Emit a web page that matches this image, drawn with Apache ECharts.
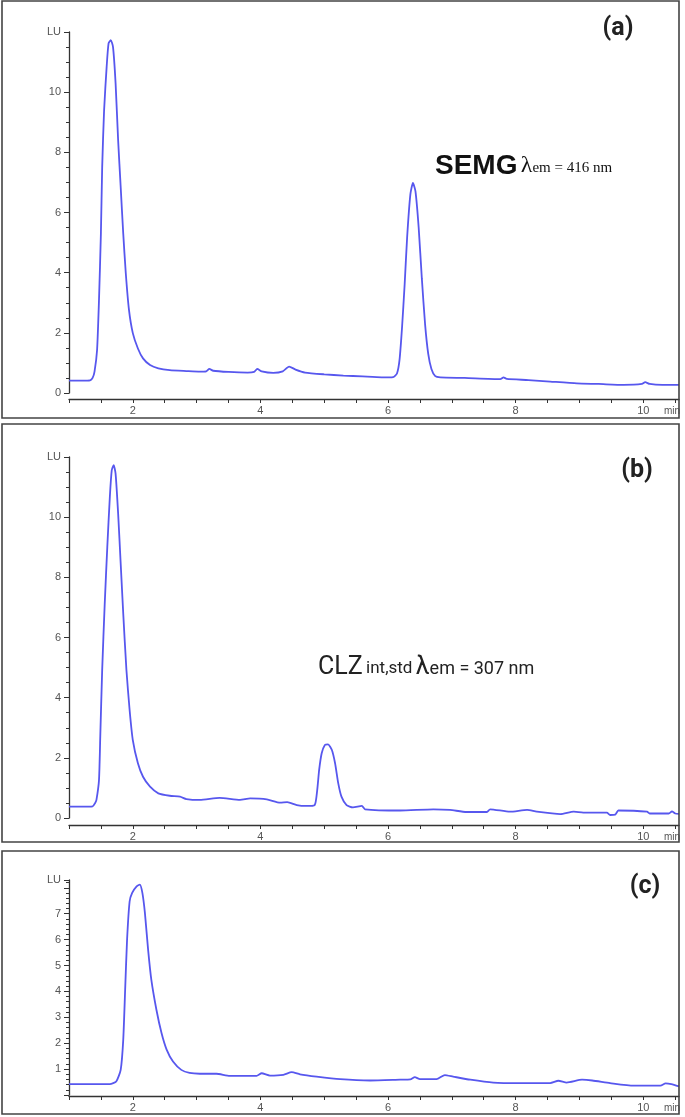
<!DOCTYPE html>
<html>
<head>
<meta charset="utf-8">
<script src="https://cdn.jsdelivr.net/npm/echarts@6/dist/echarts.min.js"></script>
<style>
  html, body { margin: 0; padding: 0; background: #fff; }
  #main { width: 685px; height: 1117px; }
</style>
</head>
<body>
<div id="main"></div>
<script>
// traces: [time (min), signal (LU)]
const traceA = [
  [1.0, 0.41], [1.2, 0.41], [1.33, 0.42], [1.37, 0.5], [1.40, 0.71], [1.44, 1.43], [1.47, 3.09],
  [1.50, 5.3], [1.52, 7.5], [1.55, 9.4], [1.59, 10.84], [1.62, 11.62], [1.655, 11.73], [1.69, 11.5],
  [1.73, 10.3], [1.77, 8.4], [1.81, 6.85], [1.85, 5.3], [1.89, 3.98], [1.94, 2.76], [2.0, 1.99],
  [2.08, 1.48], [2.16, 1.15], [2.27, 0.93], [2.40, 0.82], [2.58, 0.76], [2.84, 0.73], [3.05, 0.71],
  [3.15, 0.72], [3.2, 0.8], [3.26, 0.74], [3.5, 0.7], [3.8, 0.68], [3.9, 0.7], [3.95, 0.8],
  [4.02, 0.72], [4.2, 0.67], [4.35, 0.72], [4.45, 0.88], [4.55, 0.78], [4.7, 0.68], [5.0, 0.62],
  [5.3, 0.58], [5.6, 0.55], [5.9, 0.52], [6.08, 0.53], [6.14, 0.65], [6.18, 1.1], [6.22, 2.2],
  [6.26, 3.6], [6.3, 5.2], [6.35, 6.6], [6.39, 6.98], [6.43, 6.7], [6.48, 5.5], [6.53, 3.8],
  [6.58, 2.3], [6.63, 1.3], [6.68, 0.8], [6.74, 0.56], [6.82, 0.52], [7.2, 0.5], [7.76, 0.46],
  [7.81, 0.52], [7.86, 0.47], [8.2, 0.43], [8.54, 0.38], [8.96, 0.32], [9.3, 0.3], [9.69, 0.27],
  [9.98, 0.3], [10.03, 0.36], [10.1, 0.3], [10.3, 0.27], [10.56, 0.27]
];
const traceB = [
  [1.0, 0.38], [1.2, 0.38], [1.37, 0.39], [1.41, 0.5], [1.43, 0.6], [1.47, 1.26], [1.49, 2.7],
  [1.52, 4.92], [1.56, 7.13], [1.60, 9.0], [1.64, 10.67], [1.67, 11.56], [1.70, 11.73], [1.73, 11.45],
  [1.77, 10.12], [1.81, 8.46], [1.85, 6.8], [1.90, 4.92], [1.95, 3.59], [2.0, 2.59], [2.08, 1.82],
  [2.16, 1.37], [2.27, 1.04], [2.40, 0.82], [2.58, 0.74], [2.74, 0.71], [2.84, 0.63], [3.05, 0.6],
  [3.36, 0.67], [3.68, 0.6], [3.84, 0.65], [4.1, 0.62], [4.31, 0.51], [4.42, 0.53], [4.57, 0.43],
  [4.72, 0.4], [4.85, 0.43], [4.89, 0.93], [4.92, 1.59], [4.96, 2.15], [5.01, 2.43], [5.06, 2.45],
  [5.12, 2.26], [5.17, 1.82], [5.22, 1.15], [5.27, 0.71], [5.35, 0.43], [5.45, 0.35], [5.59, 0.4],
  [5.64, 0.29], [6.19, 0.25], [6.71, 0.29], [6.97, 0.27], [7.23, 0.2], [7.55, 0.2], [7.6, 0.29],
  [7.91, 0.21], [8.18, 0.27], [8.33, 0.21], [8.7, 0.13], [8.91, 0.21], [9.06, 0.18], [9.43, 0.18],
  [9.48, 0.1], [9.56, 0.11], [9.61, 0.25], [10.06, 0.21], [10.1, 0.15], [10.4, 0.15], [10.45, 0.22],
  [10.5, 0.15], [10.56, 0.14]
];
const traceC = [
  [1.0, 0.42], [1.4, 0.42], [1.64, 0.42], [1.74, 0.52], [1.81, 0.97], [1.85, 2.13], [1.88, 4.06],
  [1.91, 5.99], [1.95, 7.47], [1.99, 7.8], [2.06, 8.05], [2.11, 8.12], [2.15, 7.8], [2.19, 7.02],
  [2.24, 5.6], [2.29, 4.45], [2.37, 3.29], [2.45, 2.39], [2.53, 1.75], [2.63, 1.29], [2.76, 0.97],
  [2.89, 0.85], [3.05, 0.82], [3.31, 0.82], [3.52, 0.74], [3.94, 0.74], [4.02, 0.84], [4.15, 0.75],
  [4.36, 0.78], [4.49, 0.88], [4.62, 0.8], [4.88, 0.71], [5.25, 0.61], [5.72, 0.56], [6.19, 0.59],
  [6.35, 0.6], [6.42, 0.69], [6.5, 0.61], [6.76, 0.61], [6.89, 0.77], [7.02, 0.71], [7.29, 0.59],
  [7.65, 0.48], [8.07, 0.46], [8.54, 0.46], [8.67, 0.55], [8.8, 0.48], [9.04, 0.59], [9.2, 0.56],
  [9.48, 0.46], [9.85, 0.36], [10.27, 0.36], [10.35, 0.45], [10.44, 0.42], [10.56, 0.33]
];

const xTickLabels = [2, 4, 6, 8, 10];
const panelTags = ['(a)', '(b)', '(c)'];

// layout of the three stacked panels
const panels = [
  { top: 32, height: 361, max: 12, interval: 2, minor: 4, xOffset: 6, hideZero: false, data: traceA, box: [1, 418] },
  { top: 457, height: 361, max: 12, interval: 2, minor: 4, xOffset: 7, hideZero: false, data: traceB, box: [424, 842] },
  { top: 880, height: 215, max: 8.3, interval: 1, minor: 5, xOffset: 1, hideZero: true, data: traceC, box: [851, 1114] }
];
const tagPos = [[618, 29], [637, 471], [645, 887]];

const axisColor = '#333';
const labelStyle = { color: '#555', fontSize: 11, fontFamily: 'Liberation Sans, Arial, sans-serif' };

const grids = [], xAxes = [], yAxes = [], series = [], graphics = [];

panels.forEach((p, i) => {
  grids.push({ left: 69, width: 610, top: p.top, height: p.height });
  xAxes.push({
    gridIndex: i, type: 'value', min: 1, max: 10.56, interval: 0.5, offset: p.xOffset,
    axisLine: { show: true, onZero: false, lineStyle: { color: axisColor, width: 1.3 } },
    axisTick: { show: true, length: 4, lineStyle: { color: axisColor } },
    splitLine: { show: false },
    axisLabel: Object.assign({}, labelStyle, {
      margin: 6, showMaxLabel: false,
      formatter: v => xTickLabels.indexOf(v) >= 0 ? String(v) : ''
    })
  });
  yAxes.push({
    gridIndex: i, type: 'value', min: 0, max: p.max, interval: p.interval,
    axisLine: { show: true, lineStyle: { color: axisColor, width: 1.3 } },
    axisTick: { show: true, length: 5, lineStyle: { color: axisColor } },
    minorTick: { show: true, splitNumber: p.minor, length: 3, lineStyle: { color: axisColor } },
    splitLine: { show: false },
    minorSplitLine: { show: false },
    axisLabel: Object.assign({}, labelStyle, {
      margin: 8, showMaxLabel: true,
      formatter: v => {
        if (v >= p.max - 1e-6) return 'LU';
        if (p.hideZero && (v === 0 || v === 8)) return '';
        return String(v);
      }
    })
  });
  series.push({
    type: 'line', xAxisIndex: i, yAxisIndex: i, data: p.data,
    showSymbol: false, smooth: 0.2, animation: false,
    lineStyle: { color: '#5757ee', width: 1.8 }
  });

  // panel frame
  graphics.push({
    type: 'rect', shape: { x: 2, y: p.box[0], width: 677, height: p.box[1] - p.box[0] },
    style: { fill: 'none', stroke: '#444', lineWidth: 1.6 }, z: 10
  });
  graphics.push({
    type: 'text', x: tagPos[i][0], y: tagPos[i][1],
    style: {
      text: panelTags[i], fill: '#222', align: 'center', verticalAlign: 'middle',
      font: 'bold 25px "Liberation Sans Narrow", Roboto, sans-serif'
    }
  });
  graphics.push({
    type: 'text', x: 664, y: p.top + p.height + p.xOffset + 7,
    style: { text: 'min', fill: '#555', font: '10px "Liberation Sans", Arial, sans-serif', verticalAlign: 'top' }
  });
});

// compound annotations
graphics.push({
  type: 'text', x: 435, y: 150,
  style: {
    text: '{b|SEMG} {l|λ}{s|em = 416 nm}', fill: '#111',
    rich: {
      b: { fontFamily: 'Liberation Sans', fontWeight: 'bold', fontSize: 28, lineHeight: 30, verticalAlign: 'bottom' },
      l: { fontFamily: 'Liberation Serif', fontSize: 24, lineHeight: 24, verticalAlign: 'bottom', padding: [0, 0, 2, 0] },
      s: { fontFamily: 'Liberation Serif', fontSize: 15, lineHeight: 15, verticalAlign: 'bottom', padding: [0, 0, 4, 0] }
    }
  }
});
graphics.push({
  type: 'text', x: 318, y: 654,
  style: {
    text: '{c|CLZ} {s|int,std} {c|λ}{e|em = 307 nm}', fill: '#222',
    rich: {
      c: { fontFamily: 'Roboto', fontSize: 25, lineHeight: 26, verticalAlign: 'bottom' },
      s: { fontFamily: 'Roboto', fontSize: 17, lineHeight: 17, verticalAlign: 'bottom', padding: [0, 0, 3, 0] },
      e: { fontFamily: 'Roboto', fontSize: 18, lineHeight: 18, verticalAlign: 'bottom', padding: [0, 0, 2, 0] }
    }
  }
});

const chart = echarts.init(document.getElementById('main'), null, { renderer: 'canvas' });
chart.setOption({
  animation: false,
  backgroundColor: '#fff',
  grid: grids,
  xAxis: xAxes,
  yAxis: yAxes,
  series: series,
  graphic: graphics
});
</script>
</body>
</html>
